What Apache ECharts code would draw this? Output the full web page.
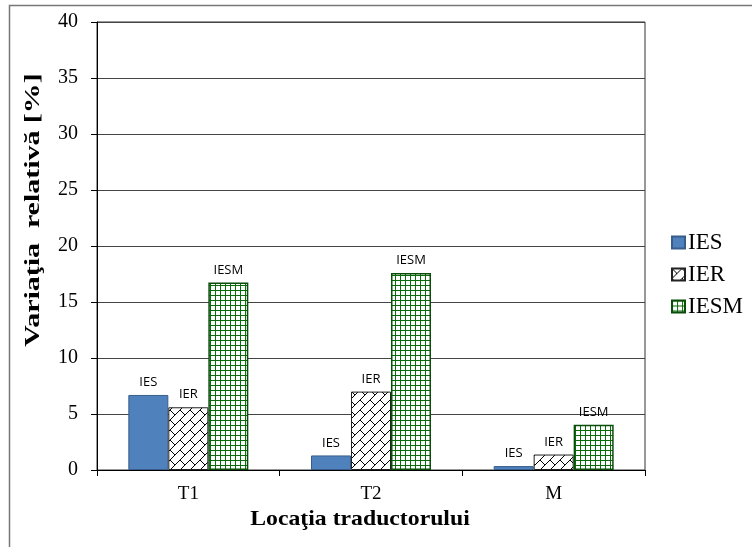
<!DOCTYPE html>
<html>
<head>
<meta charset="utf-8">
<script src="https://cdn.jsdelivr.net/npm/echarts@6/dist/echarts.min.js"></script>
<style>
  html, body { margin: 0; padding: 0; background: #fff; }
  #chart { width: 752px; height: 547px; }
</style>
</head>
<body>
<div id="chart"></div>
<script>
// Transducer locations and relative variation [%] per method
const categories = ['T1', 'T2', 'M'];
const seriesNames = ['IES', 'IER', 'IESM'];
const iesValues = [6.7, 1.3, 0.35];
const ierValues = [5.6, 7.0, 1.38];
const iesmValues = [16.75, 17.6, 4.03];
const yTicks = { min: 0, max: 40, interval: 5 };

// Diagonal-brick fill tile
function brickTile() {
  const c = document.createElement('canvas');
  c.width = 10; c.height = 10;
  const g = c.getContext('2d');
  g.fillStyle = '#fff'; g.fillRect(0, 0, 10, 10);
  g.strokeStyle = '#000'; g.lineWidth = 1;
  g.beginPath();
  g.moveTo(-1, 11); g.lineTo(11, -1);
  g.moveTo(0, 0); g.lineTo(5, 5);
  g.stroke();
  return c;
}
// Small square grid fill tile
function gridTile() {
  const c = document.createElement('canvas');
  c.width = 5; c.height = 5;
  const g = c.getContext('2d');
  g.fillStyle = '#fff'; g.fillRect(0, 0, 5, 5);
  g.fillStyle = '#0a6b0a';
  g.fillRect(0, 0, 5, 1);
  g.fillRect(0, 0, 1, 5);
  return c;
}

const labelStyle = {
  show: true,
  position: 'top',
  distance: 6,
  formatter: p => p.seriesName,
  fontFamily: 'Open Sans',
  fontSize: 13,
  color: '#000'
};

const chart = echarts.init(document.getElementById('chart'), null, { renderer: 'canvas' });
chart.setOption({
  animation: false,
  backgroundColor: '#fff',
  grid: { left: 97, right: 107, top: 22, bottom: 77, show: true, borderColor: '#333', borderWidth: 1 },
  legend: {
    orient: 'vertical',
    left: 666,
    top: 226,
    itemWidth: 13,
    itemHeight: 12,
    itemGap: 9,
    icon: 'rect',
    textStyle: { fontFamily: 'Liberation Serif', fontSize: 23, color: '#000', padding: [0, 0, 0, -2] },
    data: seriesNames
  },
  xAxis: {
    type: 'category',
    data: categories,
    axisLine: { lineStyle: { color: '#000', width: 1 } },
    axisTick: { show: true, length: 6, lineStyle: { color: '#000' } },
    axisLabel: { fontFamily: 'Liberation Serif', fontSize: 19, color: '#000', margin: 15 }
  },
  yAxis: {
    type: 'value',
    min: yTicks.min,
    max: yTicks.max,
    interval: yTicks.interval,
    axisLine: { show: true, lineStyle: { color: '#000', width: 1 } },
    axisTick: { show: true, length: 6, lineStyle: { color: '#000' } },
    axisLabel: { fontFamily: 'Liberation Serif', fontSize: 20, color: '#000', margin: 19 },
    splitLine: { lineStyle: { color: '#444', width: 1 } }
  },
  graphic: [
    {
      type: 'rect',
      shape: { x: 9.5, y: 5.5, width: 900, height: 700 },
      style: { fill: 'none', stroke: '#777', lineWidth: 1.5 },
      silent: true
    },
    {
      type: 'text',
      x: 33,
      y: 210,
      rotation: Math.PI / 2,
      scaleX: 1.36,
      style: {
        text: 'Variaţia  relativă [%]',
        fontFamily: 'Liberation Serif',
        fontSize: 22,
        fontWeight: 'bold',
        fill: '#000',
        align: 'center',
        verticalAlign: 'middle'
      }
    },
    {
      type: 'text',
      x: 360,
      y: 520,
      scaleX: 1.13,
      style: {
        text: 'Locaţia traductorului',
        fontFamily: 'Liberation Serif',
        fontSize: 21,
        fontWeight: 'bold',
        fill: '#000',
        align: 'center',
        verticalAlign: 'middle'
      }
    }
  ],
  series: [
    {
      name: 'IES',
      type: 'bar',
      data: iesValues,
      barWidth: 40,
      barGap: '0%',
      itemStyle: { color: '#4f81bd', borderColor: '#385d8a', borderWidth: 1 },
      label: labelStyle
    },
    {
      name: 'IER',
      type: 'bar',
      data: ierValues,
      barWidth: 40,
      barGap: '0%',
      itemStyle: { color: { image: brickTile(), repeat: 'repeat' }, borderColor: '#222', borderWidth: 1 },
      label: labelStyle
    },
    {
      name: 'IESM',
      type: 'bar',
      data: iesmValues,
      barWidth: 40,
      barGap: '0%',
      itemStyle: { color: { image: gridTile(), repeat: 'repeat' }, borderColor: '#0a4d0a', borderWidth: 1.5 },
      label: labelStyle
    }
  ]
});
</script>
</body>
</html>
